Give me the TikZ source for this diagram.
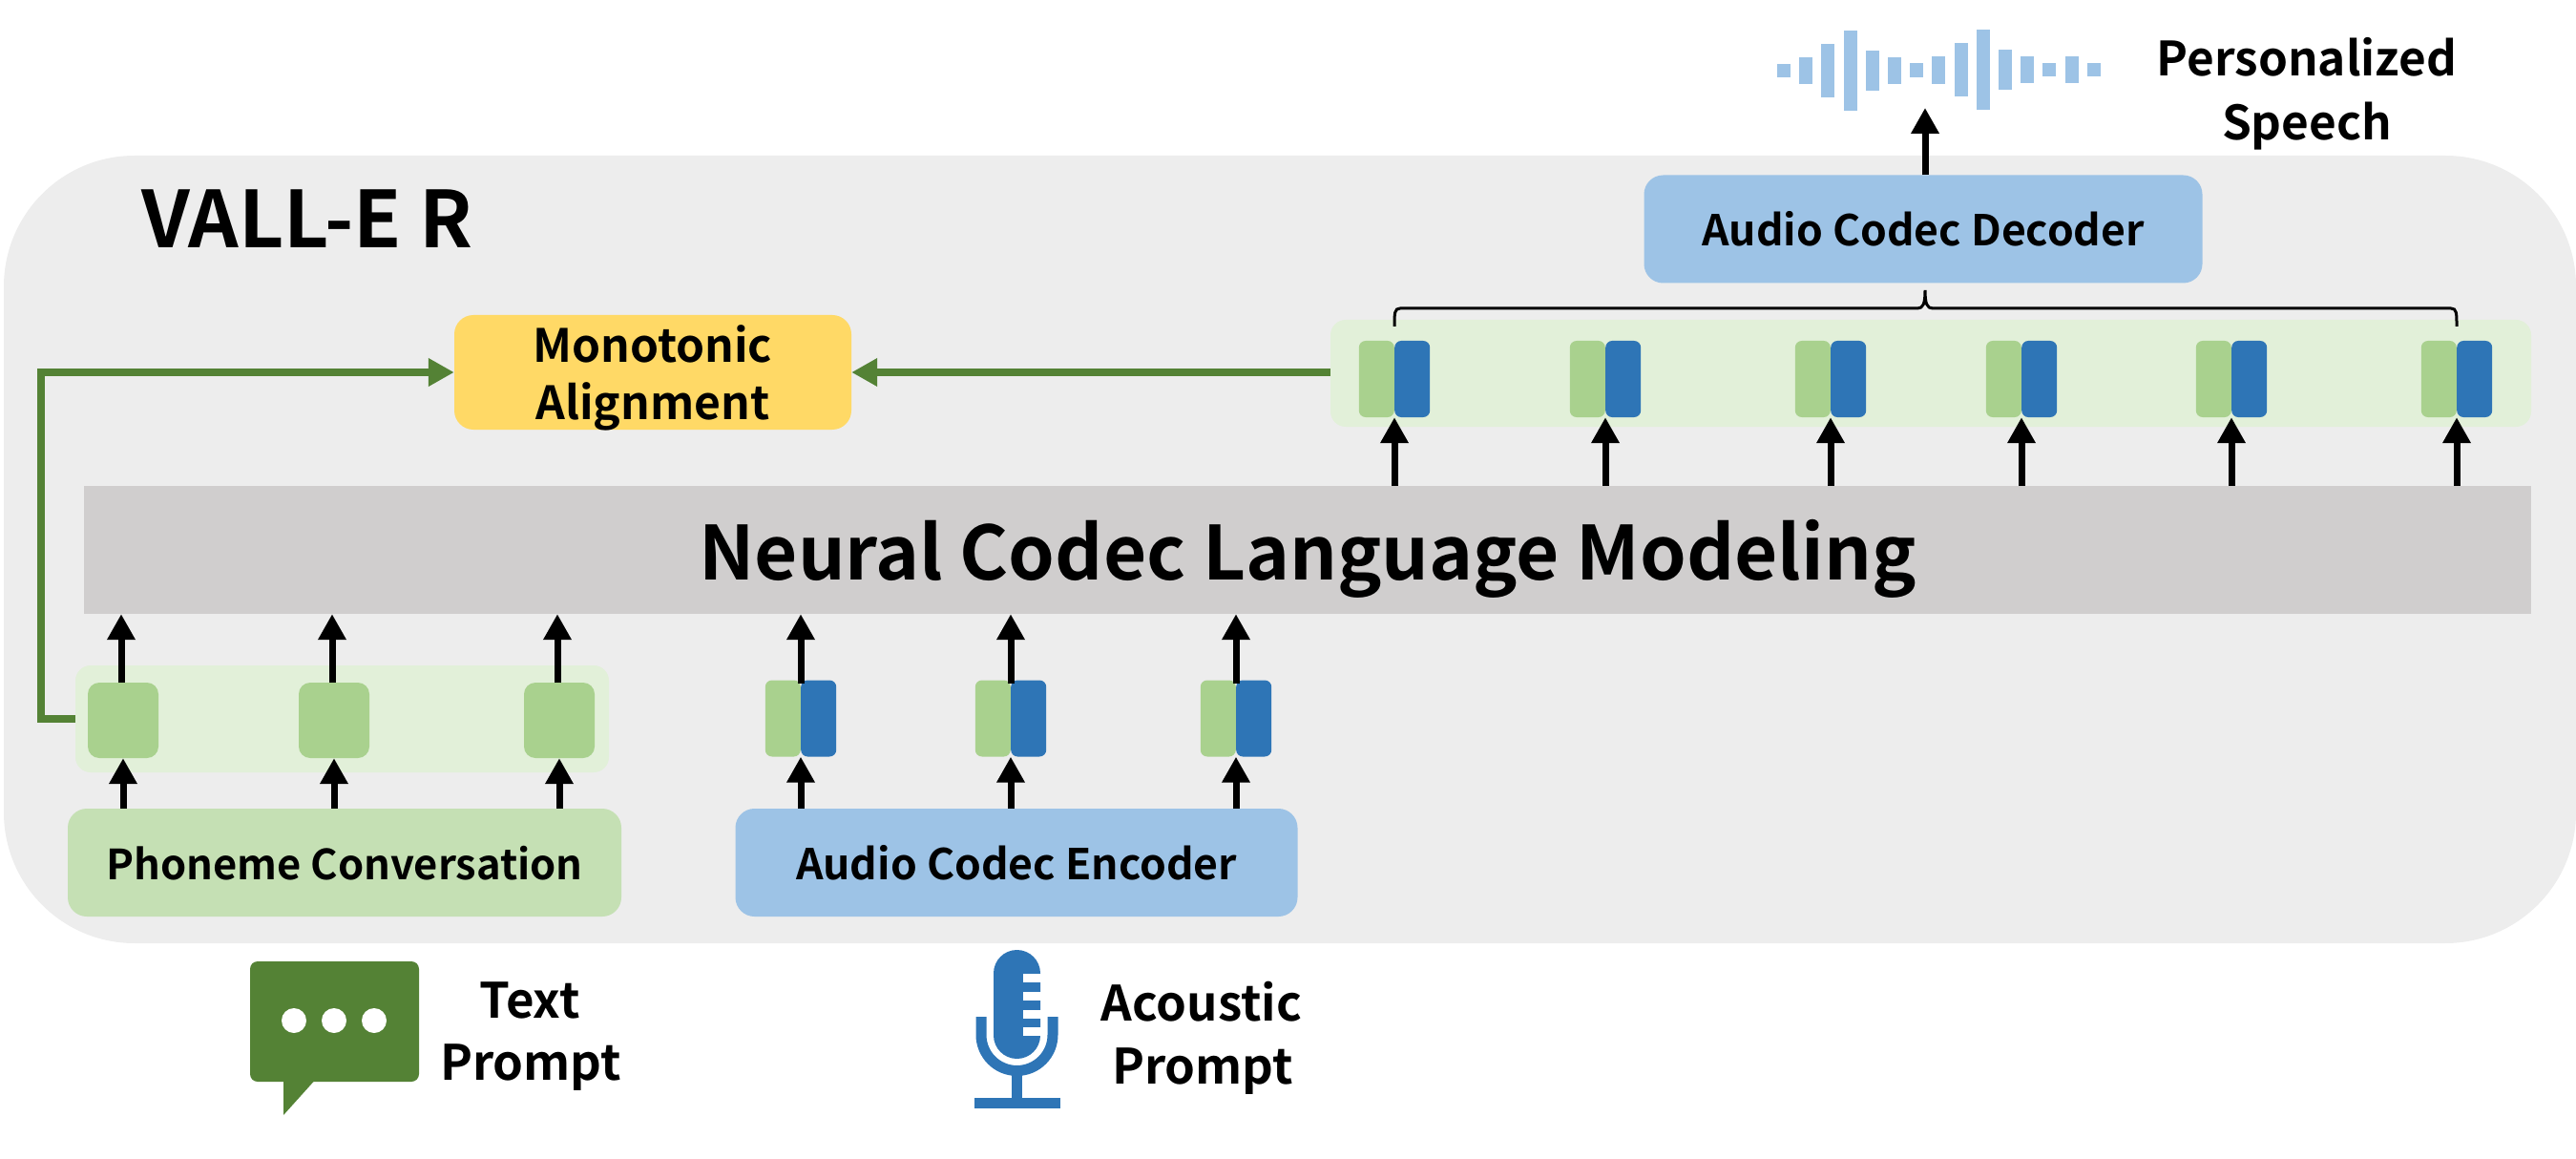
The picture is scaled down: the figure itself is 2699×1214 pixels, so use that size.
\documentclass[tikz,border=0pt]{standalone}
\usepackage{fontspec}
\setmainfont{Noto Sans CJK SC}[BoldFont={Noto Sans CJK SC Bold}]
\usetikzlibrary{arrows.meta}

\definecolor{panelgray}{HTML}{EDEDED}
\definecolor{modelgray}{HTML}{D0CECE}
\definecolor{codecblue}{HTML}{9DC3E6}
\definecolor{darkblue}{HTML}{2E75B6}
\definecolor{palegreen}{HTML}{E2F0D9}
\definecolor{softgreen}{HTML}{C5E0B4}
\definecolor{midgreen}{HTML}{A9D18E}
\definecolor{darkgreen}{HTML}{548235}
\definecolor{alignyellow}{HTML}{FFD966}

\tikzset{
  codebox/.style={rectangle,rounded corners=20pt,inner sep=0pt,font=\fontsize{44.5}{54}\bfseries\selectfont,text height=35pt,text depth=0pt},
  band/.style={rectangle,rounded corners=16pt,fill=palegreen,inner sep=0pt},
  tokgreen/.style={rectangle,rounded corners=7pt,fill=midgreen,inner sep=0pt,minimum width=37pt,minimum height=80pt,anchor=east},
  tokblue/.style={rectangle,rounded corners=7pt,fill=darkblue,inner sep=0pt,minimum width=37pt,minimum height=80pt,anchor=west},
  tokplain/.style={rectangle,rounded corners=12pt,fill=midgreen,inner sep=0pt,minimum width=74pt,minimum height=79pt},
  caption/.style={inner sep=0pt,anchor=base,font=\fontsize{51}{60}\bfseries\selectfont},
  uparrow/.style={line width=7pt,-{Triangle[length=27pt,width=28pt]}},
  greenarrow/.style={line width=7.5pt,draw=darkgreen,-{Triangle[length=27pt,width=28pt]}},
}

\begin{document}
\begin{tikzpicture}[x=1pt,y=1pt,yscale=-1,xscale=1]
\useasboundingbox (0,0) rectangle (2699,1214);

% Panel
\fill[panelgray,rounded corners=137pt] (4,163) rectangle (2699,988);
\node[inner sep=0pt,anchor=base west,font=\fontsize{82}{90}\bfseries\selectfont] (title) at (148,260) {VALL-E R};

% Bands and boxes
\node[band,minimum width=1258pt,minimum height=112pt] (rband) at (2023,391) {};
\node[band,minimum width=559pt,minimum height=112pt] (lband) at (358.5,753) {};
\node[codebox,fill=codecblue,minimum width=585pt,minimum height=113pt] (decoder) at (2015,240) {Audio Codec Decoder};
\node[codebox,fill=alignyellow,minimum width=416pt,minimum height=120pt,font=\fontsize{48}{60}\bfseries\selectfont,align=center,text height=98pt,text depth=0pt] (align) at (684,390) {Monotonic\\Alignment};
\node[rectangle,fill=modelgray,inner sep=0pt,minimum width=2564pt,minimum height=134pt,font=\fontsize{78}{90}\bfseries\selectfont,text height=62pt,text depth=0pt] (nclm) at (1370,576) {Neural Codec Language Modeling};
\node[codebox,fill=softgreen,minimum width=580pt,minimum height=113pt,font=\fontsize{43.5}{54}\bfseries\selectfont] (phoneme) at (361,903.5) {Phoneme Conversation};
\node[codebox,fill=codecblue,minimum width=589pt,minimum height=113pt] (encoder) at (1065,903.5) {Audio Codec Encoder};

% Decoder tokens
\foreach \i/\cx in {1/1461,2/1682,3/1918,4/2118,5/2338,6/2574}{
  \node[tokgreen] (dgreen\i) at (\cx,397) {};
  \node[tokblue] (dblue\i) at (\cx,397) {};
  \draw[uparrow] (nclm.north -| dgreen\i.south east) -- (dgreen\i.south east);
}

% Phoneme tokens
\foreach \i/\cx in {1/129,2/350,3/586}{
  \node[tokplain] (ptok\i) at (\cx,754.5) {};
  \draw[uparrow] (phoneme.north -| ptok\i.south) -- (ptok\i.south);
  \draw[uparrow] ([xshift=-2pt]ptok\i.north) -- ([xshift=-2pt]nclm.south -| ptok\i.north);
}

% Encoder tokens
\foreach \i/\cx in {1/839,2/1059,3/1295}{
  \node[tokgreen] (egreen\i) at (\cx,752.5) {};
  \node[tokblue] (eblue\i) at (\cx,752.5) {};
  \draw[uparrow] (encoder.north -| egreen\i.south east) -- (egreen\i.south east);
  \draw[uparrow] ([yshift=4pt]egreen\i.north east) -- (nclm.south -| egreen\i.north east);
}

% Brace
\coordinate (bracel) at (dgreen1.north east);
\coordinate (bracer) at (dgreen6.north east);
\draw[line width=3pt] ([yshift=-15pt]bracel) .. controls (1461,328) and (1461,323) .. (1467,323) -- (2009,323)
  .. controls (2015,323) and (2017,318) .. (2017,304) .. controls (2017,318) and (2019,323) .. (2025,323)
  -- (2568,323) .. controls (2574,323) and (2574,328) .. ([yshift=-15pt]bracer);

% Connectors
\coordinate (bend) at (43,390);
\draw[greenarrow] (lband.west) -| (bend) -- (align.west);
\draw[greenarrow] (rband.west |- align.east) -- (align.east);
\coordinate (speechtip) at (2017,113);
\draw[uparrow] (decoder.north -| speechtip) -- (speechtip);

% Waveform
\foreach \i/\ytop/\ybot in {0/67/81,1/60/88,2/46/102,3/32/116,4/53/95,5/60/88,6/66/81,7/59/88,8/45/101,9/31/115,10/52/94,11/59/87,12/66/80,13/59/87,14/66/80}{
  \fill[codecblue] ({1862+23.2*\i},\ytop) rectangle ({1876+23.2*\i},\ybot);
}
\node[caption,font=\fontsize{49.5}{60}\bfseries\selectfont] (speech1) at (2417,80) {Personalized};
\node[caption,font=\fontsize{49.5}{60}\bfseries\selectfont] (speech2) at (2417,147) {Speech};

% Text prompt icon
\fill[darkgreen,rounded corners=8pt] (262,1007) rectangle (439,1133);
\fill[darkgreen] (297,1128) -- (297,1168) -- (333,1128) -- cycle;
\foreach \dx in {308,350,392}{
  \fill[white] (\dx,1069) circle (13);
}
\node[caption] (textprompt1) at (555,1066) {Text};
\node[caption] (textprompt2) at (556,1131) {Prompt};

% Acoustic prompt icon
\fill[darkblue,rounded corners=24.5pt] (1041,995) rectangle (1090,1109);
\foreach \ny in {1020,1039,1058,1076}{
  \fill[white] (1071.5,\ny) rectangle (1091,\ny+8.5);
}
\draw[darkblue,line width=11pt] (1028,1065) -- (1028,1084) arc[start angle=180,end angle=0,radius=37.5] -- (1103,1065);
\fill[darkblue] (1060,1123) rectangle (1071,1150);
\fill[darkblue] (1020.5,1150) rectangle (1111,1161);
\node[caption] (acoustic1) at (1259,1069) {Acoustic};
\node[caption] (acoustic2) at (1260,1135) {Prompt};

\end{tikzpicture}
\end{document}
